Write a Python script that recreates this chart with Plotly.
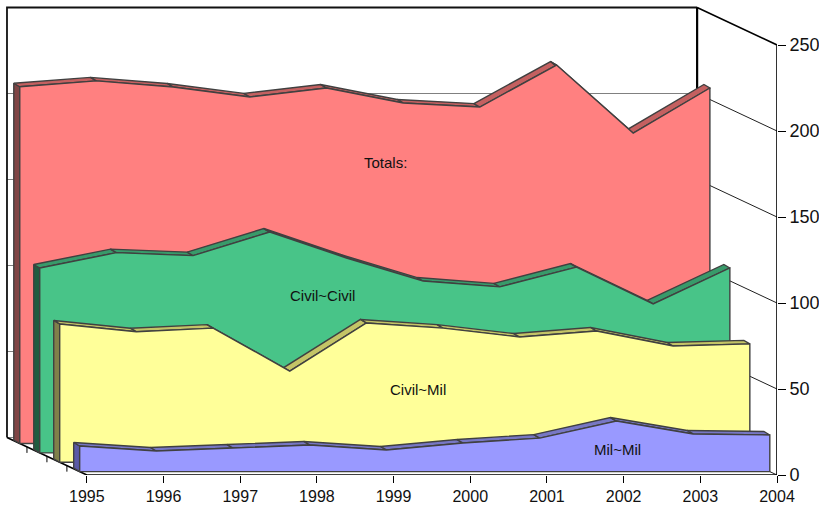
import plotly.graph_objects as go

years = [1995, 1996, 1997, 1998, 1999, 2000, 2001, 2002, 2003, 2004]
mil_mil = [14.9, 12.0, 13.7, 15.5, 12.6, 16.6, 19.5, 29.4, 21.9, 21.3]
civil_mil = [80.4, 75.9, 78.0, 53.0, 81.0, 78.0, 72.8, 76.3, 67.6, 68.8]
civil_civil = [107.5, 116.4, 114.7, 128.4, 113.3, 99.9, 96.5, 108.0, 86.6, 107.5]
totals = [207.4, 210.8, 207.3, 201.5, 206.7, 198.0, 195.6, 220.0, 180.5, 206.7]
value_ticks = [0, 50, 100, 150, 200, 250]

PX_PER_YEAR = 76.8
PX_PER_UNIT = 1.72
DEPTH_X = 80 / PX_PER_YEAR
DEPTH_Y = 37.5 / PX_PER_UNIT
STRIP_X = 6 / PX_PER_YEAR
STRIP_Y = 3.5 / PX_PER_UNIT

# back to front: name, values, depth, front, top, side colours
series = [
    ("Totals:", totals, 0.84, "#FF8080", "#C46060", "#804545"),
    ("Civil~Civil", civil_civil, 0.59, "#48C488", "#389A6A", "#205C40"),
    ("Civil~Mil", civil_mil, 0.34, "#FFFF99", "#C4C466", "#80804A"),
    ("Mil~Mil", mil_mil, 0.09, "#9999FF", "#7777C4", "#5A5AA6"),
]
label_pos = {
    "Totals:": (1998.89, 181.5),
    "Civil~Civil": (1998.07, 104.5),
    "Civil~Mil": (1999.32, 50.0),
    "Mil~Mil": (2001.92, 15.0),
}

fig = go.Figure()


def lines(xs, ys, color, width):
    fig.add_trace(go.Scatter(x=xs, y=ys, mode="lines", cliponaxis=False,
                             line=dict(color=color, width=width),
                             hoverinfo="skip", showlegend=False))


def poly(xs, ys, fill):
    fig.add_trace(go.Scatter(x=xs, y=ys, mode="lines", fill="toself", fillcolor=fill,
                             line=dict(color="#404040", width=1.4, simplify=False),
                             hoverinfo="skip", showlegend=False))


y0, y1 = years[0], years[-1]
bx0, bx1 = y0 - DEPTH_X, y1 - DEPTH_X

# back wall gridlines
gx, gy = [], []
for v in value_ticks[:-1]:
    gx += [bx0, bx1, None]
    gy += [v + DEPTH_Y, v + DEPTH_Y, None]
lines(gx, gy, "#808080", 1.2)

# side wall gridlines
gx, gy = [], []
for v in value_ticks[:-1]:
    gx += [bx1, y1, None]
    gy += [v + DEPTH_Y, v, None]
lines(gx, gy, "#202020", 1)

# walls frame
top = value_ticks[-1]
lines([bx0, bx0, bx1], [DEPTH_Y, top + DEPTH_Y, top + DEPTH_Y], "#111111", 1.8)
lines([bx1, bx1], [DEPTH_Y, top + DEPTH_Y], "#000000", 2.2)
lines([bx1, y1, y1, y0, bx0], [top + DEPTH_Y, top, 0, 0, DEPTH_Y], "#000000", 1.6)

# depth ticks along the floor edge
gx, gy = [], []
for d in [0.25, 0.5, 0.75]:
    gx += [y0 - d * DEPTH_X, y0 - d * DEPTH_X, None]
    gy += [d * DEPTH_Y, d * DEPTH_Y - 3.5, None]
lines(gx, gy, "#000000", 1)

# the layered areas
for name, vals, d, front, topc, side in series:
    fx = [y - d * DEPTH_X for y in years]
    base = d * DEPTH_Y
    fy = [v + base for v in vals]
    bx = [x - STRIP_X for x in fx]
    by = [y + STRIP_Y for y in fy]
    poly([fx[0], bx[0], bx[0], fx[0], fx[0]],
         [base, base + STRIP_Y, by[0], fy[0], base], side)
    for i in range(len(years) - 1):
        poly([fx[i], fx[i + 1], bx[i + 1], bx[i], fx[i]],
             [fy[i], fy[i + 1], by[i + 1], by[i], fy[i]], topc)
    poly([fx[0]] + fx + [fx[-1], fx[0]], [base] + fy + [base, base], front)

for name, (lx, ly) in label_pos.items():
    fig.add_annotation(x=lx, y=ly, text=name, showarrow=False,
                       font=dict(family="Liberation Sans", size=15, color="#111111"))

fig.update_layout(
    width=819, height=509, showlegend=False,
    margin=dict(l=0, r=42, t=0, b=34, pad=0),
    paper_bgcolor="white", plot_bgcolor="white",
    font=dict(family="Liberation Sans", color="#111111"),
    xaxis=dict(range=[y0 - 87 / PX_PER_YEAR, y1], tickvals=years, ticktext=[str(y) for y in years],
               ticks="outside", ticklen=7, tickwidth=1, tickcolor="#000000",
               showgrid=False, zeroline=False, showline=False, tickfont=dict(size=16)),
    yaxis=dict(range=[0, 475 / PX_PER_UNIT], side="right", tickvals=value_ticks,
               ticks="outside", ticklen=8, tickwidth=1, tickcolor="#000000",
               showgrid=False, zeroline=False, showline=False, tickfont=dict(size=18)),
)

fig.write_html("out.html", config={"displayModeBar": False},
               post_script="document.body.style.margin='0';")
